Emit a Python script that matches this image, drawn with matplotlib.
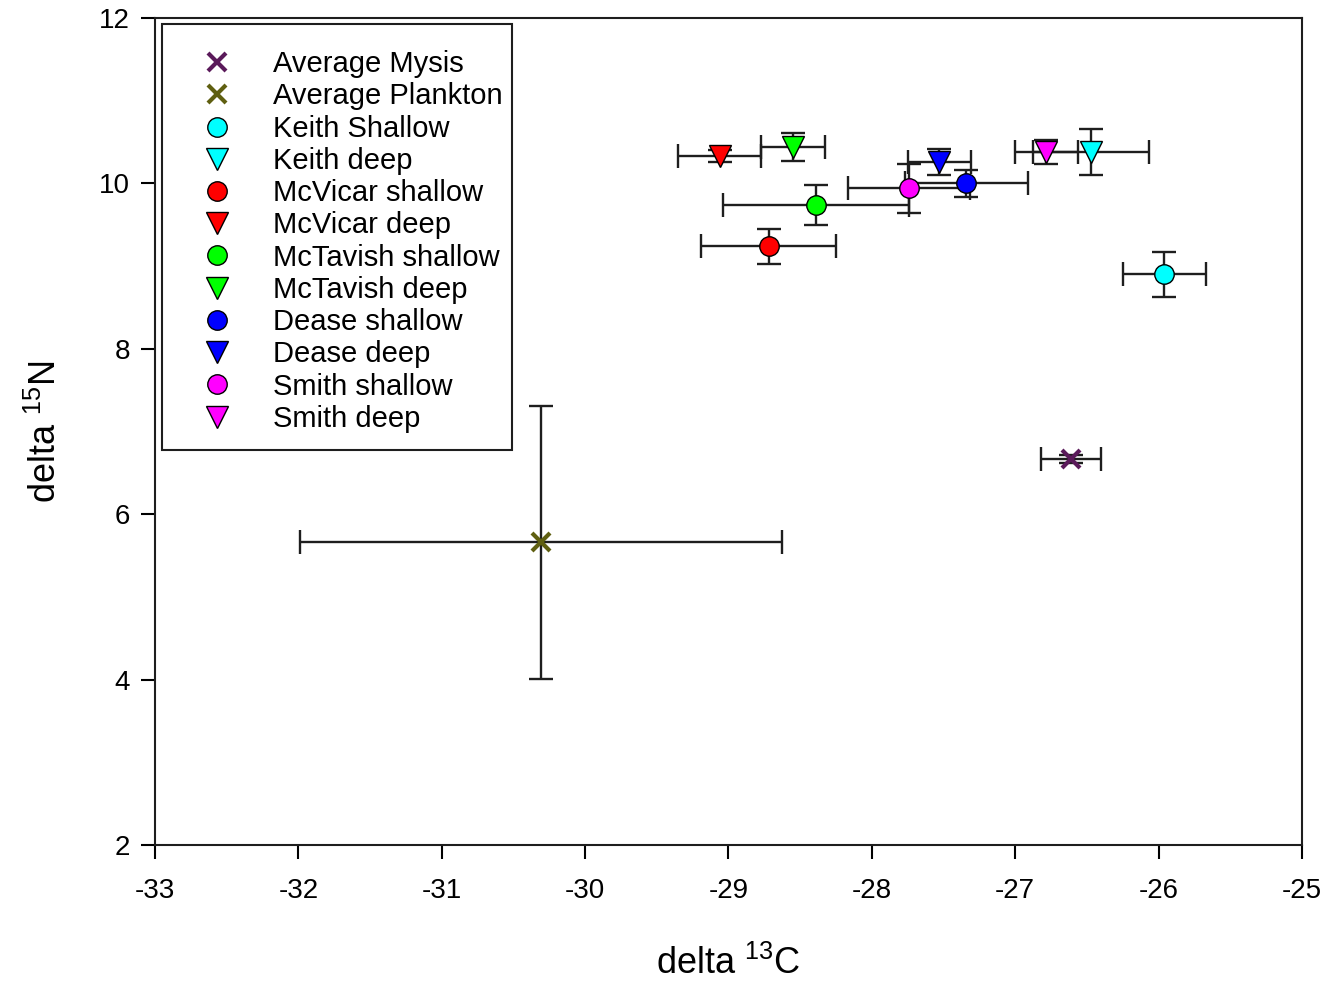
import numpy as np
import matplotlib.pyplot as plt
from matplotlib.patches import Rectangle

plt.rcParams['font.family'] = ['Liberation Sans', 'DejaVu Sans']
plt.rcParams['axes.unicode_minus'] = False
plt.rcParams['mathtext.fontset'] = 'custom'
plt.rcParams['mathtext.rm'] = 'Liberation Sans'
plt.rcParams['mathtext.it'] = 'Liberation Sans'

# data
names = ["Average Mysis", "Average Plankton", "Keith Shallow", "Keith deep",
         "McVicar shallow", "McVicar deep", "McTavish shallow", "McTavish deep",
         "Dease shallow", "Dease deep", "Smith shallow", "Smith deep"]
d13c = [-26.61, -30.31, -25.96, -26.47, -28.72, -29.06, -28.39, -28.55,
        -27.34, -27.53, -27.74, -26.785]
d13c_err = [0.21, 1.68, 0.29, 0.405, 0.47, 0.29, 0.65, 0.22,
            0.43, 0.22, 0.425, 0.22]
d15n = [6.67, 5.66, 8.90, 10.38, 9.24, 10.33, 9.74, 10.44,
        10.00, 10.26, 9.94, 10.38]
d15n_err = [0.05, 1.65, 0.27, 0.28, 0.21, 0.07, 0.24, 0.17,
            0.16, 0.16, 0.30, 0.145]
markers = ["x", "x", "o", "v", "o", "v", "o", "v", "o", "v", "o", "v"]
colors = ["#5a1a5a", "#5f5f10", "#00ffff", "#00ffff", "#ff0000", "#ff0000",
          "#00ff00", "#00ff00", "#0000ff", "#0000ff", "#ff00ff", "#ff00ff"]

fig = plt.figure(figsize=(13.41, 9.84), dpi=100)
ax = fig.add_axes([0.1156, 0.1413, 0.8553, 0.8404])

for i in range(len(names)):
    ax.errorbar(d13c[i], d15n[i], xerr=d13c_err[i], yerr=d15n_err[i],
                fmt="none", ecolor="#1e1e1e", elinewidth=1.7, capsize=8.5,
                capthick=1.7, zorder=2)

for i in range(len(names)):
    if markers[i] == "x":
        ax.plot(d13c[i], d15n[i], linestyle="none", marker="x", markersize=13,
                markeredgewidth=3, color=colors[i], label=names[i], zorder=3)
    else:
        size = 14 if markers[i] == "o" else 16
        ax.plot(d13c[i], d15n[i], linestyle="none", marker=markers[i],
                markersize=size, markerfacecolor=colors[i],
                markeredgecolor="black", markeredgewidth=1.0,
                label=names[i], zorder=3)

ax.set_xlim(-33, -25)
ax.set_ylim(2, 12)
ax.set_xticks(np.arange(-33, -24, 1))
ax.set_yticks(np.arange(2, 13, 2))
ax.tick_params(direction="out", length=10, width=1.5, labelsize=20,
               top=False, right=False)
ax.tick_params(axis="x", pad=14)
ax.tick_params(axis="y", pad=8)
for sp in ax.spines.values():
    sp.set_linewidth(1.5)
    sp.set_color("#1e1e1e")

ax.set_xlabel("delta $^{13}$C", fontsize=26, labelpad=30)
ax.set_ylabel("delta $^{15}$N", fontsize=26, labelpad=25)

leg = ax.legend(loc="upper left", bbox_to_anchor=(0.029, 0.961), fontsize=21,
                frameon=False, handletextpad=0.9, labelspacing=0.145,
                borderpad=0, handlelength=2.0, borderaxespad=0)

# legend frame
fig.patches.append(Rectangle((0.1208, 0.5427), 0.261, 0.4329,
                             transform=fig.transFigure, fill=False,
                             edgecolor="#1e1e1e", linewidth=1.5, zorder=5))

plt.savefig("out.png", dpi=100)
